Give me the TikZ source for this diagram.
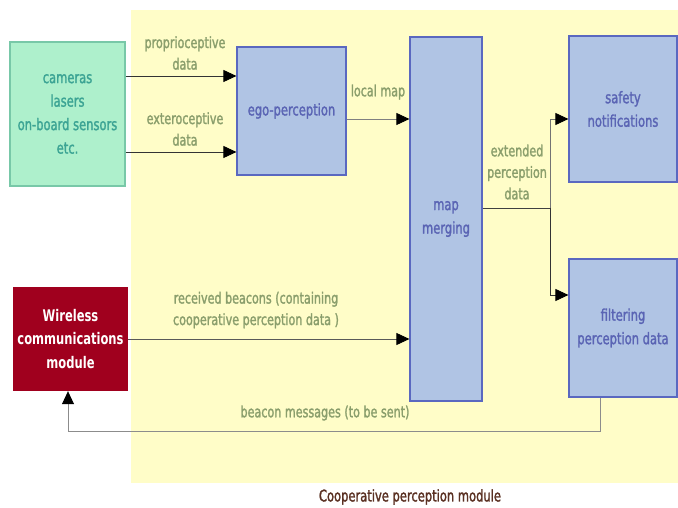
\documentclass[tikz,border=0pt]{standalone}
\usepackage{fontspec}
\setmainfont[FakeStretch=0.8,FakeBold=1.6]{DejaVu Sans Condensed}
\newfontfamily\boldface[FakeStretch=0.8]{DejaVu Sans Condensed Bold}
\usetikzlibrary{arrows.meta}
\definecolor{bgyellow}{HTML}{FFFDC8}
\definecolor{boxblue}{HTML}{B0C4E4}
\definecolor{edgeblue}{HTML}{5A68C0}
\definecolor{textblue}{HTML}{5A64B4}
\definecolor{sensgreen}{HTML}{AEF0CC}
\definecolor{sensedge}{HTML}{78C8A8}
\definecolor{senstext}{HTML}{3CA494}
\definecolor{wired}{HTML}{A0001E}
\definecolor{labgreen}{HTML}{8A9E6C}
\definecolor{titlebrown}{HTML}{5A3022}
\tikzset{
  blk/.style={draw=edgeblue, line width=1.2pt, fill=boxblue, text=textblue,
    align=center, inner sep=0pt, font=\fontsize{16}{23.5}\selectfont},
  lbl/.style={text=labgreen, align=center, font=\fontsize{15.5}{21.5}\selectfont},
  arr/.style={draw=black!80, line width=0.8pt,
    -{Triangle[length=13pt,width=12pt,color=black]}},
  wire/.style={draw=black!55, line width=0.8pt},
}
\begin{document}
\begin{tikzpicture}[x=1pt,y=-1pt]
\useasboundingbox (0,0) rectangle (678,508);
% module area
\fill[bgyellow] (131,10) rectangle (678,483);

% sources
\node[draw=sensedge, line width=1.2pt, fill=sensgreen, text=senstext, align=center,
  font=\fontsize{16}{23.5}\selectfont, minimum width=115pt, minimum height=144pt]
  (sens) at (67.5,114) {cameras\\lasers\\on-board sensors\\etc.};
\node[fill=wired, text=white, align=center, font=\fontsize{16}{23.5}\boldface,
  minimum width=115pt, minimum height=104pt] (wl) at (70.5,339)
  {Wireless\\communications\\module};

% processing blocks
\node[blk, minimum width=109pt, minimum height=128pt] (ego) at (291.5,111) {ego-perception};
\node[blk, minimum width=72pt, minimum height=364pt] (mm) at (446,219) {map\\merging};
\node[blk, minimum width=108pt, minimum height=146pt] (safe) at (623,109) {safety\\notifications};
\node[blk, minimum width=108pt, minimum height=138pt] (filt) at (623,328) {filtering\\perception data};

% connectors
\coordinate (j) at (550,208);
\draw[arr] (sens.east |- 0,76) -- (ego.west |- 0,76);
\draw[arr] (sens.east |- 0,152) -- (ego.west |- 0,152);
\draw[arr, draw=black!50] (ego.east |- 0,119) -- (mm.west |- 0,119);
\draw[arr, draw=black!65] (wl.east |- 0,339) -- (mm.west |- 0,339);
\draw[wire, draw=black!75] (mm.east |- j) -- (j);
\draw[arr, draw=black!55] (j) |- (safe.west |- 0,119);
\draw[arr] (j) |- (filt.west |- 0,295);
\draw[arr, draw=black!45] (filt.south -| 600,0) -- (600,431) -| (wl.south -| 68,0);

% labels
\node[lbl] at (185,53) {proprioceptive\\data};
\node[lbl] at (185,129) {exteroceptive\\data};
\node[lbl] at (378,92) {local map};
\node[lbl] at (517,172) {extended\\perception\\data};
\node[lbl] at (256,310) {received beacons (containing\\cooperative perception data )};
\node[lbl] at (325,413) {beacon messages (to be sent)};
\node[text=titlebrown, font=\fontsize{16}{16}\selectfont] at (410,497) {Cooperative perception module};
\end{tikzpicture}
\end{document}
